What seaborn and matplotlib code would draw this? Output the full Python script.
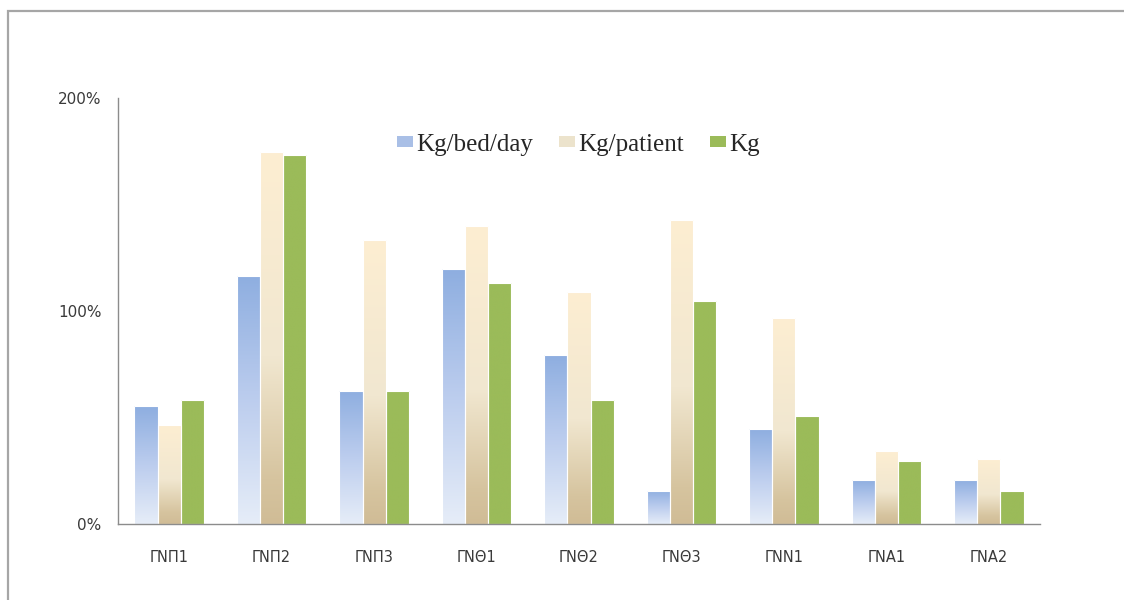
import numpy as np
import pandas as pd
import matplotlib
matplotlib.use("Agg")
import matplotlib.pyplot as plt
import seaborn as sns
from matplotlib.colors import LinearSegmentedColormap
from matplotlib.patches import Patch, Rectangle
from matplotlib.ticker import FuncFormatter

# Hospitals and the three waste indicators (as % of reference)
hospitals = ["ΓΝΠ1", "ΓΝΠ2", "ΓΝΠ3", "ΓΝΘ1", "ΓΝΘ2", "ΓΝΘ3", "ΓΝΝ1", "ΓΝΑ1", "ΓΝΑ2"]
series_names = ["Kg/bed/day", "Kg/patient", "Kg"]
kg_bed_day = [55.3, 116.5, 62.4, 119.5, 79.2, 15.5, 44.5, 20.6, 20.6]
kg_patient = [46.4, 174.4, 133.1, 139.7, 108.8, 142.5, 96.6, 34.2, 30.5]
kg_total = [58.1, 173.0, 62.4, 113.0, 58.1, 104.7, 50.6, 29.5, 15.5]
y_ticks = [0, 100, 200]

df = pd.DataFrame({
    "hospital": hospitals * 3,
    "indicator": [series_names[0]] * 9 + [series_names[1]] * 9 + [series_names[2]] * 9,
    "value": kg_bed_day + kg_patient + kg_total,
})

# Vertical gradients (bottom -> top) for each series
gradients = {
    "Kg/bed/day": LinearSegmentedColormap.from_list(
        "blue_grad", [(0.0, "#e6edf8"), (0.5, "#bccdee"), (1.0, "#8eaee0")]),
    "Kg/patient": LinearSegmentedColormap.from_list(
        "beige_grad", [(0.0, "#d0bc96"), (0.12, "#d6c49f"), (0.45, "#f1e7d0"), (1.0, "#fdeed2")]),
    "Kg": LinearSegmentedColormap.from_list(
        "green_grad", [(0.0, "#9bbb59"), (1.0, "#9bbb59")]),
}
legend_colors = {"Kg/bed/day": "#a9bfe6", "Kg/patient": "#ece3cc", "Kg": "#9bbb59"}

sns.set_theme(style="white")
plt.rcParams["font.family"] = ["DejaVu Sans"]

fig = plt.figure(figsize=(11.24, 6.0), dpi=100)
ax = fig.add_axes([118 / 1124, 76 / 600, 922 / 1124, 426.5 / 600])

sns.barplot(data=df, x="hospital", y="value", hue="indicator", order=hospitals,
            hue_order=series_names, palette=legend_colors, width=0.68,
            edgecolor="white", linewidth=0.8, saturation=1, ax=ax)

# Replace the flat fills with gradient fills clipped to each bar
grad = np.linspace(0, 1, 256).reshape(-1, 1)
for name, container in zip(series_names, ax.containers):
    for bar in container:
        x0, y0 = bar.get_x(), bar.get_y()
        w, h = bar.get_width(), bar.get_height()
        bar.set_facecolor("none")
        im = ax.imshow(grad, cmap=gradients[name], origin="lower", aspect="auto",
                       extent=[x0, x0 + w, y0, y0 + h], zorder=bar.get_zorder() - 0.1,
                       interpolation="bilinear")
        im.set_clip_path(bar)

ax.set_xlim(-0.5, len(hospitals) - 0.5)
ax.set_ylim(0, 200)
ax.set_yticks(y_ticks)
ax.yaxis.set_major_formatter(FuncFormatter(lambda v, p: f"{v:.0f}%"))
ax.set_xlabel("")
ax.set_ylabel("")

for side in ["top", "right"]:
    ax.spines[side].set_visible(False)
for side in ["left", "bottom"]:
    ax.spines[side].set_color("#8c8c8c")
    ax.spines[side].set_linewidth(1.0)

ax.tick_params(axis="x", length=0, pad=19, labelsize=10.5, labelcolor="#3a3a3a")
ax.tick_params(axis="y", length=0, pad=12, labelsize=11, labelcolor="#3a3a3a")

if ax.get_legend() is not None:
    ax.get_legend().remove()
handles = [Patch(facecolor=legend_colors[n], edgecolor="none") for n in series_names]
ax.legend(handles, series_names, loc="center", bbox_to_anchor=(0.499, 0.889),
          ncol=3, frameon=False, handlelength=0.64, handleheight=0.3,
          handletextpad=0.12, columnspacing=1.05,
          prop={"family": "Liberation Serif", "size": 18})

# Outer frame around the chart area
fig.add_artist(Rectangle((8 / 1124, -0.05), 1.2, 1.05 - 11 / 600,
                         transform=fig.transFigure, fill=False,
                         edgecolor="#a6a6a6", linewidth=1.6))

fig.savefig("out.png", dpi=100, facecolor="white")
